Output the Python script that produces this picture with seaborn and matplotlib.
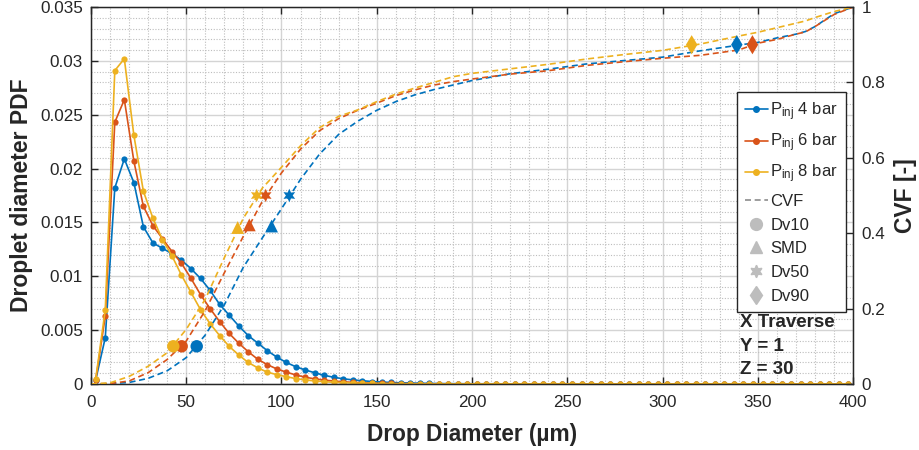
import numpy as np
import pandas as pd
import matplotlib
matplotlib.use("Agg")
import matplotlib.pyplot as plt
import seaborn as sns
from matplotlib.lines import Line2D
from matplotlib.ticker import MultipleLocator, FuncFormatter

# ---------------------------------------------------------------- data
series = ["P_inj 4 bar", "P_inj 6 bar", "P_inj 8 bar"]
colors = ["#0072BD", "#D95319", "#EDB120"]

# bin centres of the drop-size histogram (µm)
bin_centres = np.arange(2.5, 400.0, 5.0)

pdf_4bar = [
    0.0004, 0.0043, 0.0182, 0.0209, 0.0187, 0.0146, 0.0131, 0.0126, 0.0121, 0.0115,
    0.0107, 0.0098, 0.0087, 0.0074, 0.0064, 0.0054, 0.0045, 0.0038, 0.0031, 0.0025,
    0.0020, 0.0016, 0.0013, 0.00104, 0.00080, 0.00062, 0.00048, 0.00038, 0.00030, 0.00023,
    0.00018, 0.00014, 0.00011, 0.00009, 0.00007, 0.00005, 0.00004, 0.00003, 0.00003, 0.00002,
    0.00002, 0.00002, 0.00002, 0.00001, 0.00001, 0.00001, 0.00001, 0.00001, 0.00001, 0.00001,
    0.00001, 0.00001, 0.00001, 0.00001, 0.00001, 0.00001, 0.00001, 0.00001, 0.00001, 0.00001,
    0.00001, 0.00001, 0.00001, 0.00001, 0.00001, 0.00001, 0.00001, 0.00001, 0.00001, 0.00001,
    0.00001, 0.00001, 0.00001, 0.00001, 0.00001, 0.00001, 0.00001, 0.00001, 0.00001, 0.00001,
]
pdf_6bar = [
    0.0004, 0.0063, 0.0243, 0.0264, 0.0207, 0.0165, 0.0147, 0.0135, 0.0123, 0.0112,
    0.0098, 0.0083, 0.0070, 0.0058, 0.0047, 0.0038, 0.0030, 0.0023, 0.0018, 0.0014,
    0.0011, 0.00084, 0.00063, 0.00047, 0.00036, 0.00027, 0.00020, 0.00015, 0.00011, 0.00008,
    0.00006, 0.00005, 0.00004, 0.00003, 0.00002, 0.00002, 0.00002, 0.00001, 0.00001, 0.00001,
    0.00001, 0.00001, 0.00001, 0.00001, 0.00001, 0.00001, 0.00001, 0.00001, 0.00001, 0.00001,
    0.00001, 0.00001, 0.00001, 0.00001, 0.00001, 0.00001, 0.00001, 0.00001, 0.00001, 0.00001,
    0.00001, 0.00001, 0.00001, 0.00001, 0.00001, 0.00001, 0.00001, 0.00001, 0.00001, 0.00001,
    0.00001, 0.00001, 0.00001, 0.00001, 0.00001, 0.00001, 0.00001, 0.00001, 0.00001, 0.00001,
]
pdf_8bar = [
    0.0005, 0.0069, 0.0291, 0.0302, 0.0231, 0.0179, 0.0154, 0.0134, 0.0119, 0.0101,
    0.0085, 0.0069, 0.0056, 0.0045, 0.0035, 0.0027, 0.0020, 0.0015, 0.0011, 0.00087,
    0.00068, 0.00050, 0.00038, 0.00028, 0.00021, 0.00016, 0.00012, 0.00009, 0.00007, 0.00005,
    0.00004, 0.00003, 0.00002, 0.00002, 0.00002, 0.00001, 0.00001, 0.00001, 0.00001, 0.00001,
    0.00001, 0.00001, 0.00001, 0.00001, 0.00001, 0.00001, 0.00001, 0.00001, 0.00001, 0.00001,
    0.00001, 0.00001, 0.00001, 0.00001, 0.00001, 0.00001, 0.00001, 0.00001, 0.00001, 0.00001,
    0.00001, 0.00001, 0.00001, 0.00001, 0.00001, 0.00001, 0.00001, 0.00001, 0.00001, 0.00001,
    0.00001, 0.00001, 0.00001, 0.00001, 0.00001, 0.00001, 0.00001, 0.00001, 0.00001, 0.00001,
]

# cumulative volume fraction
cvf_diameter = [0, 10, 20, 30, 40, 50, 60, 70, 80, 90, 100, 110, 120, 130, 140, 150,
                160, 170, 180, 190, 200, 220, 240, 260, 280, 300, 320, 340, 350,
                360, 370, 375, 380, 390, 400]
cvf_4bar = [0.0, 0.001, 0.004, 0.015, 0.035, 0.070, 0.130, 0.210, 0.310, 0.388,
            0.465, 0.543, 0.610, 0.662, 0.697, 0.726, 0.749, 0.767, 0.781, 0.793,
            0.805, 0.823, 0.835, 0.849, 0.858, 0.867, 0.884, 0.899, 0.906,
            0.918, 0.928, 0.935, 0.948, 0.982, 1.0]
cvf_6bar = [0.0, 0.001, 0.008, 0.030, 0.065, 0.114, 0.195, 0.295, 0.392, 0.485,
            0.560, 0.623, 0.672, 0.704, 0.726, 0.745, 0.765, 0.780, 0.793, 0.802,
            0.809, 0.822, 0.831, 0.845, 0.855, 0.864, 0.872, 0.886, 0.904,
            0.914, 0.928, 0.934, 0.948, 0.980, 1.0]
cvf_8bar = [0.0, 0.003, 0.020, 0.047, 0.083, 0.145, 0.225, 0.335, 0.440, 0.520,
            0.575, 0.632, 0.680, 0.710, 0.727, 0.749, 0.769, 0.785, 0.800, 0.815,
            0.824, 0.836, 0.848, 0.862, 0.874, 0.885, 0.902, 0.923, 0.933,
            0.945, 0.957, 0.963, 0.972, 0.988, 1.0]

# characteristic diameters (µm) for 4, 6, 8 bar
dv10 = [55.5, 47.6, 43.2]
smd = [94.8, 83.1, 77.0]
smd_cvf = [0.419, 0.422, 0.415]
dv50 = [104.1, 91.7, 87.0]
dv90 = [339.0, 347.2, 315.3]

legend_labels = [r"P$_{\mathsf{inj}}$ 4 bar", r"P$_{\mathsf{inj}}$ 6 bar", r"P$_{\mathsf{inj}}$ 8 bar"]
annotation = "X Traverse\nY = 1\nZ = 30"

# ---------------------------------------------------------------- style
sns.set_style("ticks")
plt.rcParams["font.family"] = ["Liberation Sans", "DejaVu Sans"]
plt.rcParams["mathtext.fontset"] = "custom"
plt.rcParams["mathtext.rm"] = "Liberation Sans"
plt.rcParams["mathtext.sf"] = "Liberation Sans"
plt.rcParams["mathtext.it"] = "Liberation Sans"
plt.rcParams["text.color"] = "#262626"
plt.rcParams["axes.edgecolor"] = "#262626"
plt.rcParams["xtick.color"] = "#262626"
plt.rcParams["ytick.color"] = "#262626"

palette = dict(zip(series, colors))

df_pdf = pd.concat([
    pd.DataFrame({"diameter": bin_centres, "pdf": vals, "pressure": name})
    for name, vals in zip(series, [pdf_4bar, pdf_6bar, pdf_8bar])
])
df_cvf = pd.concat([
    pd.DataFrame({"diameter": cvf_diameter, "cvf": vals, "pressure": name})
    for name, vals in zip(series, [cvf_4bar, cvf_6bar, cvf_8bar])
])

fig = plt.figure(figsize=(9.2, 4.5), dpi=100)
ax = fig.add_axes([0.0989, 0.1467, 0.8283, 0.8377])

# PDF curves
sns.lineplot(data=df_pdf, x="diameter", y="pdf", hue="pressure", palette=palette,
             marker="o", markersize=4.5, markeredgewidth=0, linewidth=1.2,
             estimator=None, sort=False, legend=False, ax=ax)

ax.set_xlim(0, 400)
ax.set_ylim(0, 0.035)
ax.xaxis.set_major_locator(MultipleLocator(50))
ax.xaxis.set_minor_locator(MultipleLocator(10))
ax.yaxis.set_major_locator(MultipleLocator(0.005))
ax.yaxis.set_minor_locator(MultipleLocator(0.001))
ax.yaxis.set_major_formatter(FuncFormatter(lambda v, p: f"{v:g}"))
ax.grid(which="major", color="#d4d4d4", linewidth=1.0, linestyle="-")
ax.grid(which="minor", color="#bdbdbd", linewidth=0.8, linestyle=(0, (1, 1.5)))
ax.set_axisbelow(True)
ax.tick_params(which="major", direction="in", length=5, width=1, top=True, right=False,
               labelsize=12.3)
ax.tick_params(axis="x", which="major", pad=8)
ax.tick_params(axis="y", which="major", pad=6)
ax.tick_params(which="minor", length=0)
for s in ax.spines.values():
    s.set_linewidth(1.0)
ax.set_xlabel("Drop Diameter (µm)", fontsize=16.3, fontweight="bold", labelpad=9)
ax.set_ylabel("Droplet diameter PDF", fontsize=16.5, fontweight="bold", labelpad=5)

# CVF curves on the secondary axis
ax2 = ax.twinx()
sns.lineplot(data=df_cvf, x="diameter", y="cvf", hue="pressure", palette=palette,
             linewidth=1.2, linestyle="--", estimator=None, sort=False, legend=False, ax=ax2)
for ln in ax2.lines:
    ln.set_dashes((3.6, 2.2))

# characteristic diameters
marker_sets = [
    (dv10, [0.1] * 3, "o", 80),
    (smd, smd_cvf, "^", 85),
    (dv50, [0.5] * 3, (6, 1, 0), 95),
    (dv90, [0.9] * 3, "d", 95),
]
for xs, ys, mk, size in marker_sets:
    sns.scatterplot(x=xs, y=ys, hue=series, palette=palette, marker=mk, s=size,
                    linewidth=0, legend=False, ax=ax2, zorder=5)

ax2.set_ylim(0, 1)
ax2.set_xlim(0, 400)
ax2.yaxis.set_major_locator(MultipleLocator(0.2))
ax2.yaxis.set_major_formatter(FuncFormatter(lambda v, p: f"{v:g}"))
ax2.tick_params(direction="in", length=5, width=1, labelsize=12.3, pad=6)
ax2.set_ylabel("CVF [-]", fontsize=16.5, fontweight="bold", labelpad=6)

# legend
grey = "#bdbdbd"
handles = [
    Line2D([], [], color=c, marker="o", markersize=4, linewidth=1.2, label=l)
    for c, l in zip(colors, legend_labels)
]
handles += [
    Line2D([], [], color="#8c8c8c", linestyle="--", dashes=(3.6, 2.2), linewidth=1.2, label="CVF"),
    Line2D([], [], color=grey, marker="o", linestyle="", markersize=8.5, label="Dv10"),
    Line2D([], [], color=grey, marker="^", linestyle="", markersize=9, label="SMD"),
    Line2D([], [], color=grey, marker=(6, 1, 0), linestyle="", markersize=9, label="Dv50"),
    Line2D([], [], color=grey, marker="d", linestyle="", markersize=9.5, label="Dv90"),
]
leg = ax2.legend(handles=handles, loc="upper right", bbox_to_anchor=(0.991, 0.775),
                 borderaxespad=0, fontsize=12, frameon=True, fancybox=False,
                 edgecolor="#262626", framealpha=1, handlelength=1.35,
                 handletextpad=0.15, labelspacing=0.52, borderpad=0.5)
leg.get_frame().set_linewidth(1.0)

ax2.text(0.852, 0.185, annotation, transform=ax2.transAxes, ha="left", va="top",
         fontsize=13.5, fontweight="bold", linespacing=1.5)

fig.savefig("out.png", dpi=100)
